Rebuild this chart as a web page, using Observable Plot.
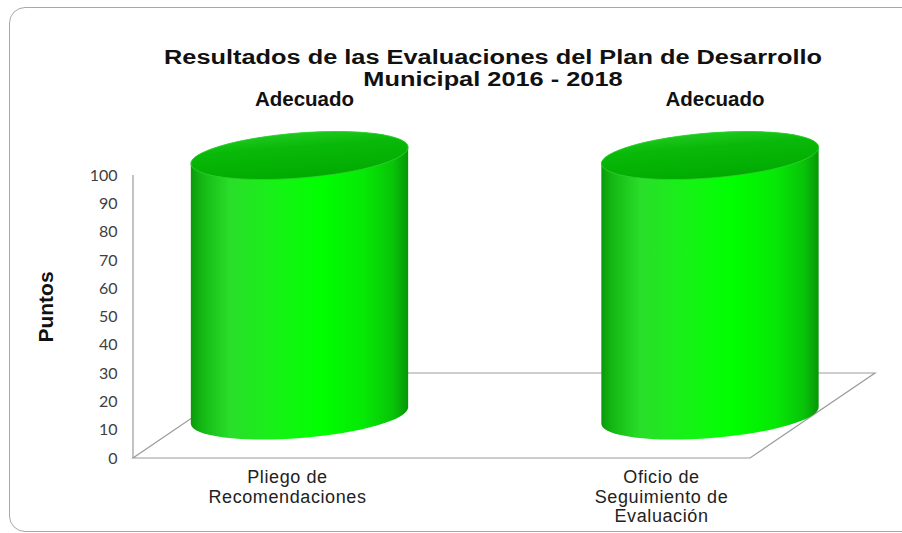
<!DOCTYPE html>
<html>
<head>
<meta charset="utf-8">
<script src="https://cdn.jsdelivr.net/npm/d3@7"></script>
<script src="https://cdn.jsdelivr.net/npm/@observablehq/plot@0.6"></script>
<style>
  html, body { margin: 0; padding: 0; background: #fff; }
  body { width: 902px; height: 533px; position: relative; overflow: hidden; font-family: "Liberation Sans", Arial, sans-serif; }
  #frame { position: absolute; left: 9px; top: 7px; width: 910px; height: 525px; border: 1px solid #a8a8a8; border-radius: 16px; box-sizing: border-box; }
  #chart { position: absolute; left: 0; top: 0; }
  .tline { position: absolute; left: 0; width: 986px; text-align: center; font-weight: bold; font-size: 19.5px; line-height: 22.5px; height: 22.5px; color: #111; transform: scaleX(1.3); transform-origin: 493px 0; white-space: nowrap; }
  #chart svg g[aria-label="x-axis tick label"] text { letter-spacing: 0.6px; }
</style>
</head>
<body>
<div id="frame"></div>
<div id="chart"></div>
<div id="title"></div>
<script>
// ---- data ----
const categories = ["Pliego de\nRecomendaciones", "Oficio de\nSeguimiento de\nEvaluación"];
const values = [100, 100];
const ratings = ["Adecuado", "Adecuado"];
const yTicks = [0, 10, 20, 30, 40, 50, 60, 70, 80, 90, 100];
const yTitle = "Puntos";
const titleLines = ["Resultados de las Evaluaciones del Plan de Desarrollo", "Municipal 2016 - 2018"];

const data = categories.map((c, i) => ({category: c, value: values[i], rating: ratings[i]}));

const titleBox = document.getElementById("title");
titleLines.forEach((t, i) => {
  const d = document.createElement("div");
  d.className = "tline";
  d.style.top = (45.5 + i * 22.5) + "px";
  d.textContent = t;
  titleBox.appendChild(d);
});

// ---- 3D look parameters ----
const DEPTH_X = 125, DEPTH_Y = 85;      // floor depth offset (px)
const BACK_SCALE = 260 / 283;           // height shrink at mid depth
const VP_X = 159, SPREAD = 1.0976;      // horizontal spread at mid depth
const RX = 109, RY = 22.5, TILT = -4.5; // cylinder ellipse
const LINE = "#9c9c9c";

function cylinders(index, scales, vals, dims) {
  const y = scales.y;
  const g = d3.create("svg:g");
  const fx0 = dims.marginLeft, fx1 = dims.width - dims.marginRight;
  const fy = y(0);

  const defs = g.append("defs");
  const body = defs.append("linearGradient").attr("id", "cylBody").attr("x1", 0).attr("x2", 1).attr("y1", 0).attr("y2", 0);
  [[0, "#0a990a"], [0.05, "#14b814"], [0.18, "#2ade2a"], [0.42, "#14f414"], [0.6, "#00ff00"], [0.8, "#06e806"], [0.93, "#08c408"], [1, "#079607"]]
    .forEach(([o, c]) => body.append("stop").attr("offset", o).attr("stop-color", c));
  const top = defs.append("linearGradient").attr("id", "cylTop").attr("x1", 0).attr("x2", 0).attr("y1", 0).attr("y2", 1);
  [[0, "#1ec81e"], [0.3, "#09b909"], [1, "#00ab00"]]
    .forEach(([o, c]) => top.append("stop").attr("offset", o).attr("stop-color", c));

  // floor (drawn behind the cylinders)
  const floor = [[fx0, fy], [fx1, fy], [fx1 + DEPTH_X, fy - DEPTH_Y], [fx0 + DEPTH_X, fy - DEPTH_Y]];
  g.append("path").attr("d", "M" + floor.join("L") + "Z").attr("fill", "none").attr("stroke", LINE).attr("stroke-width", 1.2);
  // value axis line
  g.append("line").attr("x1", fx0).attr("x2", fx0).attr("y1", fy).attr("y2", y(100)).attr("stroke", LINE).attr("stroke-width", 1.2);

  const t = TILT * Math.PI / 180;
  const ex = RX * Math.cos(t), ey = RX * Math.sin(t);
  for (const i of index) {
    const cx = VP_X + (vals.x[i] - VP_X) * SPREAD;
    const yb = fy - DEPTH_Y / 2;
    const yt = yb - (fy - vals.y[i]) * BACK_SCALE;
    const d = `M${cx - ex},${yt - ey} L${cx - ex},${yb - ey} A${RX},${RY} ${TILT} 0 0 ${cx + ex},${yb + ey} L${cx + ex},${yt + ey} A${RX},${RY} ${TILT} 0 0 ${cx - ex},${yt - ey} Z`;
    g.append("path").attr("d", d).attr("fill", "url(#cylBody)");
    g.append("ellipse").attr("cx", cx).attr("cy", yt).attr("rx", RX).attr("ry", RY)
      .attr("transform", `rotate(${TILT} ${cx} ${yt})`).attr("fill", "url(#cylTop)")
      .attr("stroke", "#2fd02f").attr("stroke-width", 0.8);
    g.append("text").attr("x", cx + 5).attr("y", yt - RY - 27)
      .attr("text-anchor", "middle").attr("font-family", "'Liberation Sans', Arial, sans-serif")
      .attr("font-weight", "bold").attr("font-size", 20.5).attr("fill", "#111")
      .text(data[i].rating);
  }
  return g.node();
}

const plot = Plot.plot({
  width: 902,
  height: 533,
  marginLeft: 133,
  marginRight: 152,
  marginTop: 175,
  marginBottom: 75,
  style: {background: "transparent", overflow: "visible"},
  x: {type: "point", domain: categories, range: [287, 661], padding: 0, align: 0.5},
  y: {domain: [0, 100], range: [458, 175]},
  marks: [
    Plot.axisY(yTicks, {tickSize: 0, tickPadding: 16, fontSize: 16, fontFamily: "Lato", color: "#404040", label: null}),
    Plot.axisX({tickSize: 0, tickPadding: 11, fontSize: 18, lineHeight: 1.08, fontFamily: "Liberation Sans", color: "#222", label: null}),
    Plot.dot(data, {x: "category", y: "value", render: cylinders}),
    Plot.text([yTitle], {frameAnchor: "left", rotate: -90, dx: -87, dy: -10, fontSize: 21, fontWeight: "bold", fontFamily: "Liberation Sans", fill: "#111", textAnchor: "middle"})
  ]
});
document.getElementById("chart").appendChild(plot);
</script>
</body>
</html>
